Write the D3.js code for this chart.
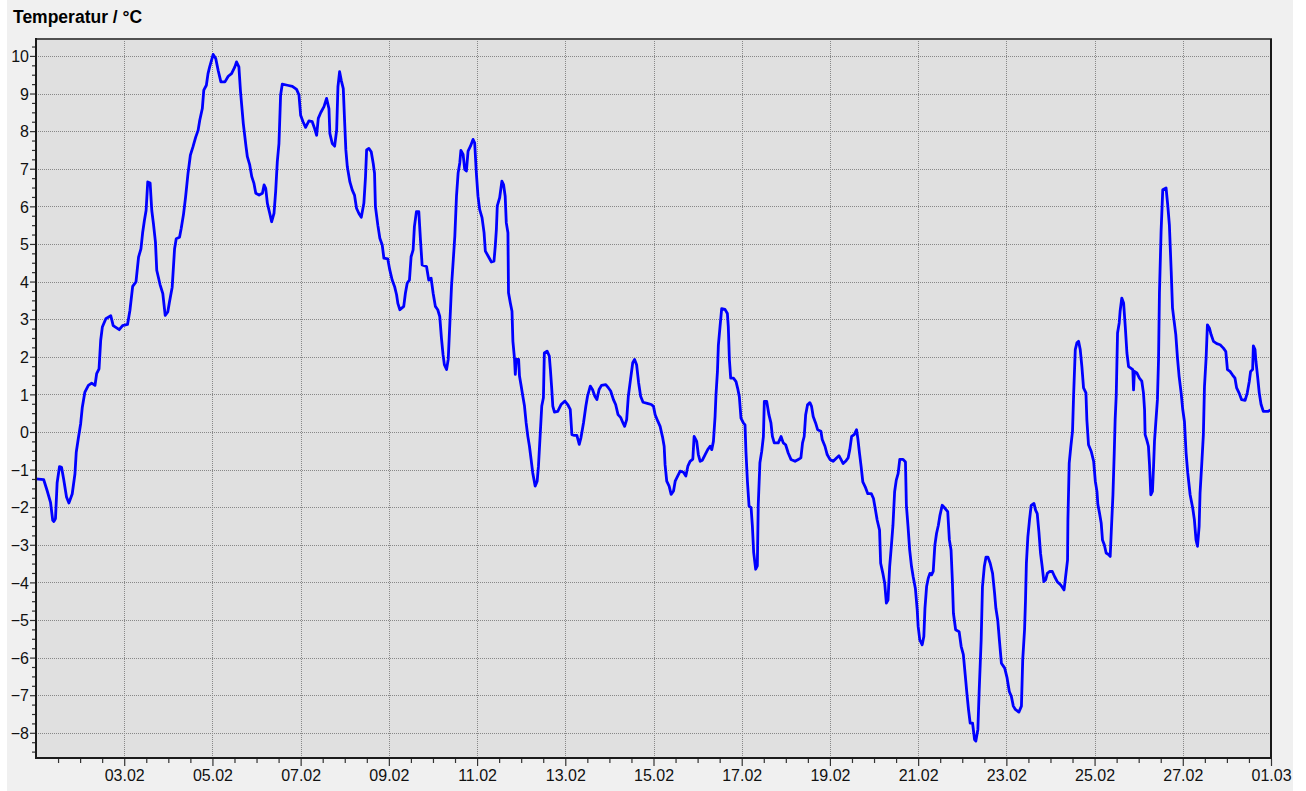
<!DOCTYPE html>
<html>
<head>
<meta charset="utf-8">
<script src="https://cdn.jsdelivr.net/npm/d3@7"></script>
<style>
  html, body { margin: 0; padding: 0; background: #ffffff; }
  svg { display: block; }
  text { font-family: "Liberation Sans", Arial, sans-serif; }
</style>
</head>
<body>
<svg id="chart" width="1306" height="791"></svg>
<script>
// ---- data (hours since 01.02 00:00, temperature in °C) ----
const title = "Temperatur / °C";
const startDate = new Date(2017, 1, 1, 0, 0, 0);
const endDate = new Date(2017, 2, 1, 0, 0, 0);

const hours = [
  0, 4.2, 6.0, 7.9, 9.1, 9.7, 10.6, 11.5, 12.8, 13.9, 15.1, 16.6, 17.9, 19.7, 21.2, 21.9, 23.0, 24.3, 25.2, 26.6,
  28.5, 30.3, 32.1, 33.0, 34.3, 35.2, 36.1, 38.0, 40.7, 42.0, 45.3, 47.1, 49.8, 51.1, 52.6, 54.4, 55.8, 57.1, 58.0, 59.0,
  59.9, 60.8, 62.1, 63.0, 63.9, 65.0, 65.7, 67.5, 69.0, 70.3, 71.7, 72.6, 74.1, 75.4, 76.3, 78.1, 79.0, 80.3, 81.4, 82.7,
  84.0, 85.4, 86.9, 88.2, 89.1, 90.5, 91.3, 92.7, 93.6, 94.5, 96.4, 97.8, 99.1, 100.6, 102.8, 104.6, 106.4, 108.2, 109.1, 110.4,
  111.3, 112.8, 114.3, 115.0, 116.3, 117.4, 118.6, 119.6, 121.4, 123.2, 124.1, 125.0, 125.9, 127.2, 128.2, 129.5, 130.4, 131.3, 132.2, 133.1,
  134.0, 136.8, 139.5, 141.8, 143.1, 144.0, 145.3, 146.7, 148.5, 150.3, 151.6, 152.7, 153.6, 154.9, 156.7, 158.1, 159.4, 159.9, 161.2, 162.5,
  163.6, 164.3, 165.2, 166.1, 167.2, 167.9, 168.6, 169.4, 170.8, 172.1, 173.3, 174.4, 175.7, 177.0, 178.4, 179.3, 179.9, 181.1, 182.4, 183.5,
  184.2, 184.7, 186.0, 187.1, 188.4, 189.3, 191.4, 192.5, 193.8, 195.1, 196.2, 196.9, 198.0, 200.1, 201.0, 202.0, 203.2, 204.1, 205.2, 205.9,
  207.0, 208.3, 209.2, 210.1, 212.5, 213.7, 215.0, 216.1, 217.3, 218.6, 219.7, 220.6, 221.5, 222.2, 223.4, 224.3, 225.2, 226.1, 227.0, 227.9,
  228.8, 229.7, 230.6, 231.2, 232.4, 233.3, 234.2, 235.1, 236.4, 237.8, 238.7, 239.6, 240.5, 241.4, 242.7, 243.8, 244.5, 246.0, 247.8, 249.2,
  249.9, 250.5, 251.0, 252.3, 253.5, 254.4, 255.3, 255.9, 256.8, 257.1, 258.1, 259.0, 259.5, 260.4, 260.8, 261.3, 262.6, 263.1, 264.0, 264.9,
  265.8, 266.7, 267.6, 268.5, 269.4, 270.3, 271.6, 272.7, 273.4, 274.3, 275.2, 276.1, 276.6, 278.1, 279.3, 279.9, 280.6, 281.2, 282.1, 283.9,
  285.7, 287.8, 289.3, 290.7, 291.6, 292.9, 294.3, 295.6, 296.5, 297.9, 299.2, 300.1, 301.6, 302.8, 304.1, 305.2, 306.4, 307.7, 310.0, 311.5,
  312.7, 314.2, 315.4, 316.7, 318.2, 319.4, 320.3, 321.4, 322.3, 323.5, 324.7, 325.7, 326.8, 327.9, 329.0, 330.3, 332.6, 334.8, 336.0, 336.9,
  338.4, 339.6, 340.9, 341.8, 342.3, 343.2, 344.5, 345.6, 346.9, 347.8, 349.2, 350.5, 352.3, 353.6, 354.7, 355.9, 357.4, 358.1, 359.5, 360.4,
  361.4, 362.6, 364.1, 365.5, 366.8, 367.7, 368.6, 369.5, 370.0, 370.8, 371.3, 372.2, 373.1, 374.9, 376.2, 376.7, 377.3, 378.0, 379.5, 380.9,
  381.8, 382.7, 383.6, 384.9, 385.8, 386.3, 387.1, 388.0, 389.1, 389.8, 390.5, 391.6, 392.5, 393.0, 393.9, 394.9, 395.8, 396.3, 397.6, 398.8,
  399.9, 400.7, 401.7, 403.9, 405.4, 406.6, 407.9, 409.3, 410.8, 413.0, 414.8, 416.2, 417.1, 418.0, 418.8, 419.8, 421.1, 422.0, 422.9, 424.2,
  425.3, 427.1, 427.8, 429.3, 430.5, 432.0, 433.8, 435.6, 436.9, 438.0, 439.2, 440.5, 441.9, 442.8, 443.8, 445.2, 446.5, 447.2, 448.1, 449.0,
  449.9, 451.2, 452.6, 454.5, 455.7, 456.8, 457.7, 459.0, 459.6, 460.8, 461.8, 462.7, 463.6, 464.5, 465.4, 466.3, 467.2, 468.1, 469.1, 470.0,
  471.8, 473.1, 473.6, 474.5, 475.4, 476.4, 477.3, 478.5, 479.5, 480.0, 480.9, 482.2, 483.1, 483.7, 484.6, 485.5, 486.4, 487.3, 488.2, 489.1,
  490.0, 491.0, 491.9, 493.1, 494.6, 496.1, 497.0, 497.9, 498.6, 499.2, 500.4, 502.3, 503.4, 504.6, 505.6, 506.5, 507.4, 508.3, 509.6, 510.7,
  511.4, 512.5, 513.2, 513.8, 514.3, 515.0, 516.0, 516.9, 518.0, 519.2, 520.5, 521.6, 522.3, 523.3, 524.2, 525.3, 527.1, 528.4, 529.6, 530.7,
  531.8, 532.9, 534.8, 536.2, 536.9, 537.9, 538.4, 538.9, 539.7, 540.6, 541.5, 543.0, 543.9, 544.8, 545.7, 546.6, 547.5, 548.4, 549.4, 550.3,
  551.5, 553.0, 554.3, 555.7, 557.6, 559.4, 561.3, 561.5, 562.2, 563.1, 564.0, 564.6, 565.5, 566.4, 567.3, 568.2, 569.1, 570.0, 571.3, 571.8,
  572.7, 574.2, 575.5, 576.4, 577.3, 577.8, 578.7, 579.6, 580.3, 581.3, 582.3, 583.6, 584.5, 585.1, 586.0, 586.7, 587.2, 587.8, 588.5, 589.4,
  589.9, 590.8, 591.8, 592.7, 593.6, 594.5, 595.7, 596.8, 597.2, 597.7, 599.0, 600.4, 601.7, 602.6, 603.2, 603.5, 604.4, 605.3, 605.9, 606.6,
  607.5, 608.1, 608.6, 609.3, 610.2, 610.8, 611.3, 612.2, 613.1, 614.9, 615.8, 616.7, 617.7, 618.4, 619.3, 620.2, 621.1, 622.0, 623.1, 624.0,
  624.9, 625.8, 626.7, 628.0, 629.4, 630.3, 631.2, 632.0, 632.9, 633.4, 634.3, 635.2, 635.8, 636.7, 637.4, 638.5, 639.4, 640.7, 642.5, 644.3,
  646.1, 647.4, 648.3, 649.7, 651.0, 652.4, 653.3, 654.6, 656.0, 657.9, 659.1, 660.2, 660.9, 662.0, 662.4, 663.3, 663.8, 664.7, 665.6, 666.6,
  667.8, 670.5, 672.0
];

const temps = [
  -1.25, -1.27, -1.55, -1.87, -2.35, -2.38, -2.30, -1.35, -0.92, -0.94, -1.27, -1.73, -1.89, -1.65, -1.11, -0.54, -0.18, 0.22, 0.66, 1.06,
  1.24, 1.30, 1.24, 1.55, 1.68, 2.44, 2.79, 3.01, 3.09, 2.83, 2.72, 2.83, 2.86, 3.23, 3.87, 3.99, 4.65, 4.87, 5.29, 5.63,
  5.89, 6.65, 6.62, 5.89, 5.54, 5.05, 4.30, 3.92, 3.68, 3.10, 3.19, 3.45, 3.85, 4.87, 5.14, 5.18, 5.41, 5.80, 6.25, 6.87,
  7.36, 7.58, 7.84, 8.02, 8.29, 8.60, 9.09, 9.22, 9.53, 9.71, 10.04, 9.93, 9.62, 9.31, 9.31, 9.46, 9.53, 9.71, 9.84, 9.71,
  9.04, 8.20, 7.58, 7.32, 7.10, 6.79, 6.61, 6.35, 6.30, 6.35, 6.57, 6.48, 6.08, 5.81, 5.59, 5.81, 6.39, 7.19, 7.67, 8.96,
  9.25, 9.22, 9.19, 9.11, 8.96, 8.42, 8.25, 8.10, 8.27, 8.25, 8.07, 7.89, 8.34, 8.49, 8.65, 8.87, 8.60, 7.94, 7.67, 7.60,
  8.03, 9.18, 9.58, 9.35, 9.13, 8.29, 7.50, 7.05, 6.65, 6.43, 6.30, 5.95, 5.81, 5.71, 6.08, 6.79, 7.50, 7.54, 7.45, 7.14,
  6.88, 5.99, 5.50, 5.15, 4.97, 4.62, 4.60, 4.31, 4.04, 3.87, 3.65, 3.42, 3.25, 3.34, 3.69, 3.96, 4.04, 4.66, 4.84, 5.46,
  5.86, 5.86, 5.11, 4.44, 4.40, 4.04, 4.09, 3.69, 3.34, 3.25, 3.07, 2.50, 2.05, 1.79, 1.66, 1.93, 2.90, 3.88, 4.54, 5.21,
  6.27, 6.89, 7.16, 7.49, 7.38, 6.98, 6.94, 7.47, 7.60, 7.78, 7.69, 6.89, 6.27, 5.92, 5.70, 5.30, 4.81, 4.68, 4.52, 4.54,
  4.94, 5.38, 6.01, 6.23, 6.67, 6.58, 6.27, 5.56, 5.30, 3.70, 3.43, 3.21, 2.41, 1.93, 1.53, 1.93, 1.93, 1.48, 1.22, 0.95,
  0.69, 0.24, -0.11, -0.38, -0.73, -1.09, -1.44, -1.31, -0.91, -0.11, 0.69, 0.91, 2.10, 2.15, 2.02, 1.66, 1.17, 0.69, 0.53, 0.55,
  0.73, 0.82, 0.73, 0.60, -0.07, -0.09, -0.09, -0.33, -0.16, 0.24, 0.69, 0.95, 1.22, 1.13, 0.95, 0.86, 1.13, 1.24, 1.26, 1.17,
  1.09, 0.86, 0.73, 0.46, 0.38, 0.24, 0.15, 0.33, 0.95, 1.40, 1.84, 1.93, 1.79, 1.31, 0.95, 0.79, 0.76, 0.73, 0.68, 0.46,
  0.28, 0.15, -0.13, -0.38, -0.87, -1.31, -1.44, -1.66, -1.57, -1.31, -1.17, -1.04, -1.07, -1.17, -0.91, -0.78, -0.72, -0.12, -0.25, -0.60,
  -0.78, -0.75, -0.60, -0.47, -0.38, -0.47, -0.25, 0.41, 0.99, 1.61, 2.31, 2.80, 3.28, 3.26, 3.15, 2.80, 1.92, 1.43, 1.43, 1.34,
  1.16, 0.94, 0.37, 0.24, 0.19, -0.52, -1.31, -1.97, -2.01, -2.50, -3.20, -3.65, -3.56, -1.93, -0.82, -0.51, -0.12, 0.81, 0.81, 0.46,
  0.24, -0.12, -0.29, -0.29, -0.12, -0.29, -0.34, -0.56, -0.73, -0.78, -0.73, -0.69, -0.29, -0.12, 0.46, 0.72, 0.78, 0.68, 0.41, 0.24,
  0.06, 0.02, -0.20, -0.38, -0.60, -0.73, -0.78, -0.69, -0.63, -0.73, -0.84, -0.78, -0.69, -0.47, -0.12, -0.07, 0.06, -0.18, -0.57, -0.93,
  -1.33, -1.46, -1.64, -1.64, -1.77, -2.08, -2.34, -2.61, -3.49, -3.76, -4.02, -4.55, -4.47, -3.58, -3.05, -2.48, -1.59, -1.28, -1.11, -0.73,
  -0.73, -0.80, -1.95, -2.52, -3.14, -3.58, -3.85, -4.16, -4.73, -5.17, -5.53, -5.66, -5.44, -4.69, -4.11, -3.89, -3.76, -3.80, -3.71, -3.01,
  -2.70, -2.48, -2.21, -1.95, -2.03, -2.12, -2.87, -3.14, -3.93, -4.82, -5.26, -5.31, -5.70, -5.92, -6.45, -6.94, -7.38, -7.74, -7.74, -8.18,
  -8.22, -7.91, -6.90, -6.15, -5.53, -4.11, -3.58, -3.33, -3.33, -3.49, -3.76, -4.29, -4.69, -5.00, -5.53, -6.15, -6.28, -6.54, -6.90, -7.03,
  -7.29, -7.38, -7.45, -7.29, -6.06, -5.26, -4.51, -3.49, -2.79, -2.34, -1.95, -1.90, -2.08, -2.17, -2.65, -3.23, -3.58, -3.98, -3.93, -3.76,
  -3.71, -3.71, -3.85, -3.98, -4.07, -4.20, -3.40, -2.33, -0.83, -0.38, 0.02, 0.99, 2.19, 2.37, 2.41, 2.19, 1.74, 1.17, 1.04, 0.33,
  -0.34, -0.52, -0.78, -1.31, -1.58, -1.93, -2.16, -2.42, -2.87, -3.00, -3.22, -3.26, -3.31, -2.64, -1.67, -0.56, 0.33, 0.99, 2.63, 2.90,
  3.21, 3.56, 3.43, 2.81, 2.10, 1.74, 1.70, 1.66, 1.12, 1.61, 1.57, 1.43, 1.35, 1.04, 0.59, -0.07, -0.21, -0.38, -0.87, -1.67,
  -1.58, -0.91, -0.25, 0.24, 0.86, 1.92, 3.70, 5.34, 6.44, 6.49, 6.04, 5.51, 4.27, 3.30, 2.94, 2.59, 1.97, 1.48, 1.04, 0.59,
  0.28, -0.56, -1.09, -1.67, -2.02, -2.33, -2.87, -3.04, -2.51, -1.62, -0.87, -0.07, 1.21, 1.97, 2.85, 2.76, 2.59, 2.41, 2.35, 2.32,
  2.23, 2.14, 1.66, 1.61, 1.52, 1.43, 1.17, 1.04, 0.86, 0.84, 1.04, 1.35, 1.61, 1.66, 2.29, 2.19, 1.88, 1.48, 1.04, 0.73,
  0.55, 0.55, 0.59
];

const yTickValues = [-8, -7, -6, -5, -4, -3, -2, -1, 0, 1, 2, 3, 4, 5, 6, 7, 8, 9, 10];
const yDomain = [-8.67, 10.45];
const xLabelDays = [3, 5, 7, 9, 11, 13, 15, 17, 19, 21, 23, 25, 27]; // February days with labels, plus 01.03

// ---- layout ----
const W = 1306, H = 791;
const plot = { left: 36, top: 39, right: 1271, bottom: 758 };

const svg = d3.select("#chart");

// panel background
svg.append("rect").attr("x", 7).attr("y", 0).attr("width", 1286).attr("height", H).attr("fill", "#f0f0f0");

// title
svg.append("text").attr("x", 13).attr("y", 23)
  .attr("font-size", "17.5px").attr("font-weight", "bold").attr("fill", "#000")
  .text(title);

// plot background
svg.append("rect")
  .attr("x", plot.left).attr("y", plot.top)
  .attr("width", plot.right - plot.left).attr("height", plot.bottom - plot.top)
  .attr("fill", "#e0e0e0");

const x = d3.scaleTime().domain([startDate, endDate]).range([plot.left, plot.right]);
const y = d3.scaleLinear().domain(yDomain).range([plot.bottom, plot.top]);

const toDate = h => new Date(startDate.getTime() + h * 3600 * 1000);
const data = hours.map((h, i) => ({ t: toDate(h), v: temps[i] }));

const majorDates = xLabelDays.map(d => new Date(2017, 1, d)).concat([endDate]);
const minorDates = d3.timeHour.every(12).range(startDate, endDate).filter(d => !(d.getHours() === 0 && d.getDate() % 2 === 1 && d.getMonth() === 1));

// grid
const grid = svg.append("g").attr("stroke", "#888888").attr("stroke-width", 1).attr("stroke-dasharray", "1,1").attr("shape-rendering", "crispEdges");
grid.selectAll("line.h").data(yTickValues).join("line").attr("class", "h")
  .attr("x1", plot.left).attr("x2", plot.right)
  .attr("y1", d => Math.round(y(d)) + 0.5).attr("y2", d => Math.round(y(d)) + 0.5);
grid.selectAll("line.v").data(majorDates.slice(0, -1)).join("line").attr("class", "v")
  .attr("x1", d => Math.round(x(d)) + 0.5).attr("x2", d => Math.round(x(d)) + 0.5)
  .attr("y1", plot.top).attr("y2", plot.bottom);

// data line
const line = d3.line().x(d => x(d.t)).y(d => y(d.v));
svg.append("path").datum(data)
  .attr("d", line)
  .attr("fill", "none")
  .attr("stroke", "#0000ff")
  .attr("stroke-width", 2.8)
  .attr("stroke-linejoin", "round");

// frame
svg.append("line").attr("x1", plot.left).attr("x2", plot.right + 1).attr("y1", plot.top).attr("y2", plot.top)
  .attr("stroke", "#505050").attr("stroke-width", 2);
svg.append("line").attr("x1", plot.right).attr("x2", plot.right).attr("y1", plot.top).attr("y2", plot.bottom)
  .attr("stroke", "#1a1a1a").attr("stroke-width", 2);
svg.append("line").attr("x1", plot.left).attr("x2", plot.left).attr("y1", plot.top - 1).attr("y2", plot.bottom + 1)
  .attr("stroke", "#1a1a1a").attr("stroke-width", 2);
svg.append("line").attr("x1", plot.left - 1).attr("x2", plot.right + 1).attr("y1", plot.bottom).attr("y2", plot.bottom)
  .attr("stroke", "#1a1a1a").attr("stroke-width", 2);

// y axis
const yMinor = d3.range(-34, 42).map(i => i * 0.25).filter(v => !Number.isInteger(v) && v > yDomain[0] && v < yDomain[1]);
const yAxis = svg.append("g").attr("transform", `translate(${plot.left - 1},0)`)
  .call(d3.axisLeft(y).tickValues(yTickValues).tickSize(5).tickPadding(1).tickFormat(d3.format("d")));
const yAxisMinor = svg.append("g").attr("transform", `translate(${plot.left - 1},0)`)
  .call(d3.axisLeft(y).tickValues(yMinor).tickSize(3).tickFormat(""));

// x axis
const xAxis = svg.append("g").attr("transform", `translate(0,${plot.bottom + 1})`)
  .call(d3.axisBottom(x).tickValues(majorDates).tickSize(7).tickPadding(4).tickFormat(d3.timeFormat("%d.%m")));
const xAxisMinor = svg.append("g").attr("transform", `translate(0,${plot.bottom + 1})`)
  .call(d3.axisBottom(x).tickValues(minorDates).tickSize(4).tickFormat(""));

[yAxis, yAxisMinor, xAxis, xAxisMinor].forEach(g => {
  g.select(".domain").remove();
  g.selectAll(".tick line").attr("stroke", "#333").attr("stroke-width", 1.2);
  g.selectAll("text").attr("font-size", "16px").attr("font-family", '"Liberation Sans", Arial, sans-serif').attr("fill", "#111");
});
yAxis.selectAll("text").attr("dy", "0.36em");
</script>
</body>
</html>
